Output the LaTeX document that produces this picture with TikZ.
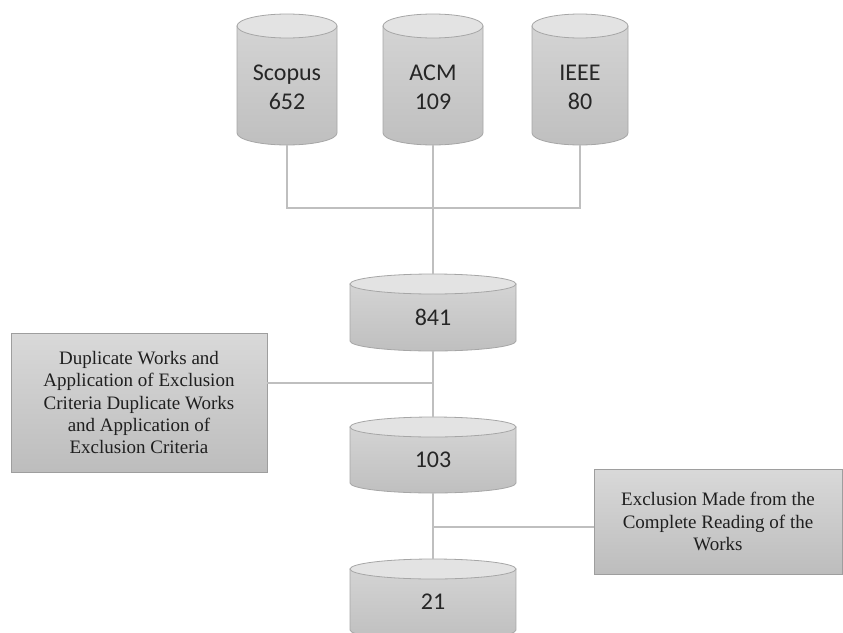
\documentclass[tikz,border=0pt]{standalone}
\usepackage{fontspec}
\setmainfont{Liberation Serif}
\newfontfamily\calibri{Carlito}
\tikzset{
  cylbody/.style={draw=black!35, line width=0.8pt, top color=black!17, bottom color=black!25},
  cyltop/.style={draw=black!35, line width=0.8pt, fill=black!11},
  cyltext/.style={font=\calibri\fontsize{24}{29}\selectfont, align=center, text=black!85, inner sep=0pt},
  critbox/.style={draw=black!38, line width=0.8pt, top color=black!15, bottom color=black!26, align=center, inner sep=0pt, font=\fontsize{19}{22.3}\selectfont, text=black!88},
  conn/.style={draw=black!25, line width=1.5pt}
}
\newcommand\dbcyl[6]{%
  \path[cylbody] (#2-#5,#3+#6) -- (#2-#5,#4-#6) arc[start angle=180,end angle=360,x radius=#5pt,y radius=#6pt] -- (#2+#5,#3+#6) -- cycle;
  \path[cyltop] (#2,#3+#6) ellipse[x radius=#5pt,y radius=#6pt];
  \node[inner sep=0pt, minimum width={2*#5pt}, minimum height={(#4-#3)*1pt}] (#1) at (#2,{(#3+#4)/2}) {};
}
\begin{document}
\begin{tikzpicture}[x=1pt,y=-1pt]
\useasboundingbox (0,0) rectangle (843,632);
% connectors first (behind shapes)
\coordinate (j) at (433,208);
\coordinate (j2) at (433,383);
\coordinate (j3) at (433,527);
% cylinders
\dbcyl{scopus}{287}{14}{145}{50}{12}
\dbcyl{acm}{433}{14}{145}{50}{12}
\dbcyl{ieee}{580}{14}{145}{48}{12}
\dbcyl{n841}{433}{274}{351}{83}{10}
\dbcyl{n103}{433}{417}{493}{83}{10}
\dbcyl{n21}{433}{559}{640}{83}{10}
\node[cyltext] (scopusT) at (287,87) {Scopus\\652};
\node[cyltext] (acmT) at (433,87) {ACM\\109};
\node[cyltext] (ieeeT) at (580,87) {IEEE\\80};
\node[cyltext] (t841) at (433,317) {841};
\node[cyltext] (t103) at (433,460) {103};
\node[cyltext] (t21) at (433,602) {21};
% boxes
\node[critbox, minimum width=256pt, minimum height=139pt] (crit1) at (139,402.5)
  {Duplicate Works and\\Application of Exclusion\\Criteria Duplicate Works\\and Application of\\Exclusion Criteria};
\node[critbox, minimum width=248pt, minimum height=105pt] (crit2) at (718,521.5)
  {Exclusion Made from the\\Complete Reading of the\\Works};
% connectors
\draw[conn] (scopus.south) |- (j);
\draw[conn] (ieee.south) |- (j);
\draw[conn] (acm.south) -- (j) -- (n841.north);
\draw[conn] (n841.south) -- (j2) -- (n103.north);
\draw[conn] (j2 -| crit1.east) -- (j2);
\draw[conn] (n103.south) -- (j3) -- (n21.north);
\draw[conn] (j3) -- (j3 -| crit2.west);
\end{tikzpicture}
\end{document}
